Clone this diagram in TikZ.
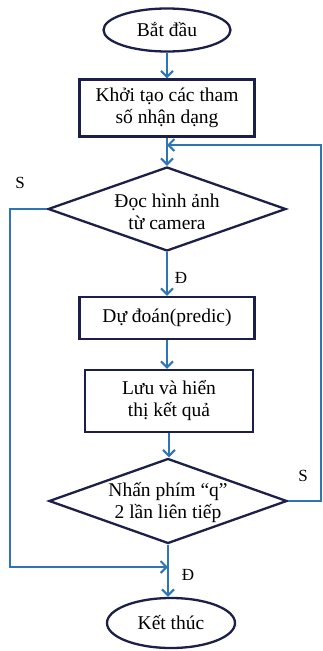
\documentclass[tikz,border=0pt]{standalone}
\usepackage{fontspec}
\setmainfont{Liberation Serif}
\usetikzlibrary{shapes.geometric,arrows.meta}
\definecolor{boxc}{RGB}{28,32,72}
\definecolor{arrc}{RGB}{46,117,182}
\begin{document}
\begin{tikzpicture}[x=1pt,y=-1pt,
  every node/.style={font=\fontsize{19.5}{22}\selectfont, align=center, text=black},
  term/.style={ellipse, draw=boxc, line width=2.3pt, inner sep=0pt},
  proc/.style={rectangle, draw=boxc, line width=2.5pt, inner sep=0pt},
  dec/.style={diamond, draw=boxc, line width=2.3pt, inner sep=0pt},
  flow/.style={draw=arrc, line width=2.1pt, -{Straight Barb[length=6pt,width=12pt,line width=2.1pt]}},
  line/.style={draw=arrc, line width=2.1pt},
  lbl/.style={font=\fontsize{17}{20}\selectfont}
]
\useasboundingbox (0,0) rectangle (323,651);
\node[term, minimum width=127pt, minimum height=43pt] (start) at (167,30) {Bắt đầu};
\node[proc, minimum width=175pt, minimum height=57pt] (init) at (167,108) {Khởi tạo các tham\\số nhận dạng};
\coordinate (j1) at (167,145);
\node[dec, minimum width=238pt, minimum height=84pt] (d1) at (167,209) {};
\node (t1) at (167,212) {Đọc hình ảnh\\từ camera};
\node[proc, minimum width=175pt, minimum height=42pt] (pred) at (167,318) {Dự đoán(predic)};
\node[proc, minimum width=168pt, minimum height=62pt] (save) at (169,401) {Lưu và hiển\\thị kết quả};
\node[dec, minimum width=238pt, minimum height=85pt] (d2) at (168,501) {};
\node (t2) at (168,503) {Nhấn phím “q”\\2 lần liên tiếp};
\node[term, minimum width=128pt, minimum height=50pt] (end) at (171,623) {Kết thúc};
\coordinate (j2) at (168,567);
\coordinate (r1) at (321,501);
\coordinate (r2) at (321,145);
\coordinate (l1) at (10,209);
\coordinate (l2) at (10,567);

\draw[flow] (start.south) -- (start.south |- init.north);
\draw[line] (init.south) -- (init.south |- j1);
\draw[flow] (j1) -- (d1.north);
\draw[flow] (d1.south) -- (d1.south |- pred.north);
\draw[flow] (pred.south) -- (pred.south |- save.north);
\draw[flow] (save.south) -- (save.south |- d2.north);
\draw[flow] (d2.south) -- (d2.south |- end.north);
\draw[flow] (d2.east) -- (r1) -- (r2) -- (j1);
\draw[flow] (d1.west) -- (l1) -- (l2) -- (j2);

\node[lbl] (s1) at (20,183) {S};
\node[lbl] (s2) at (303,476) {S};
\node[lbl] (y1) at (181,278) {Đ};
\node[lbl] (y2) at (188,575) {Đ};
\end{tikzpicture}
\end{document}
